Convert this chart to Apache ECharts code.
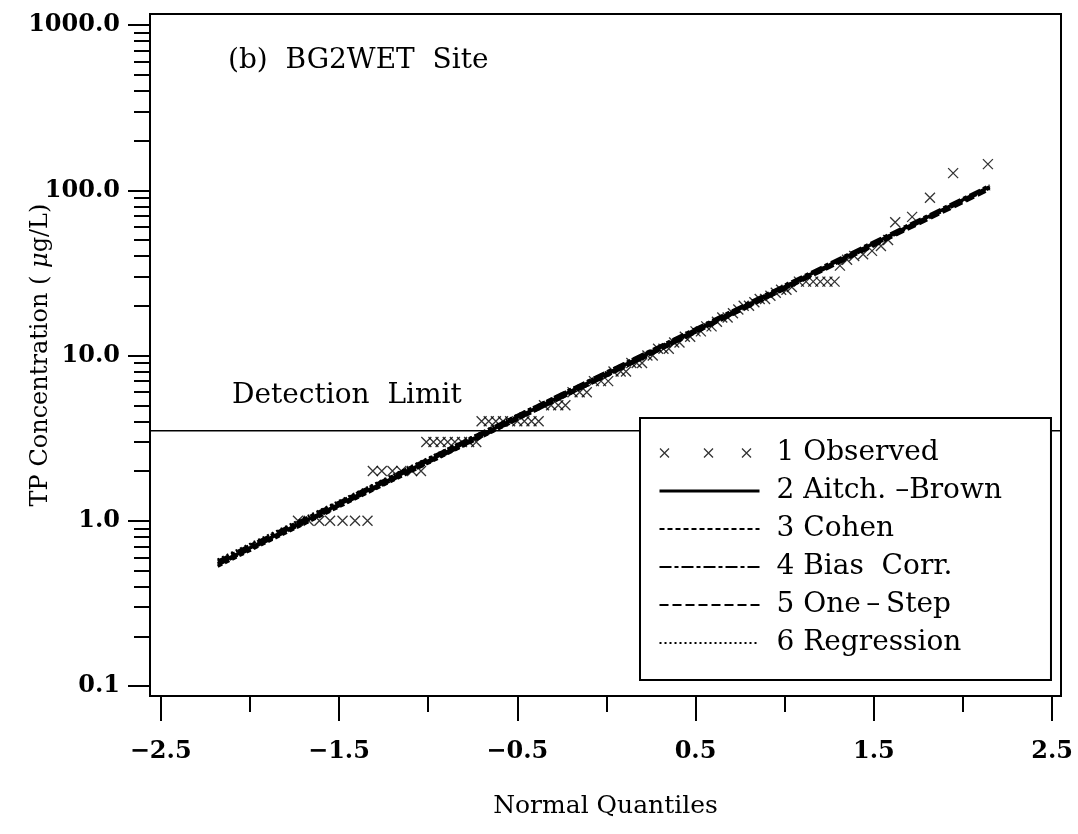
<!DOCTYPE html>
<html><head><meta charset="utf-8">
<script src="https://cdn.jsdelivr.net/npm/echarts@6/dist/echarts.min.js"></script>
<style>html,body{margin:0;padding:0;background:#fff}#c{width:1078px;height:834px}</style>
</head><body><div id="c"></div>
<script>
// Observed TP concentrations (µg/L) vs. normal quantiles
const obsZ = [
  -1.73,-1.67,-1.61,-1.55,-1.48,-1.41,-1.34,
  -1.31,-1.26,-1.20,-1.15,-1.09,-1.04,
  -1.01,-0.97,-0.93,-0.89,-0.85,-0.81,-0.77,-0.73,
  -0.70,-0.66,-0.62,-0.58,-0.54,-0.50,-0.46,-0.42,-0.38,
  -0.35,-0.31,-0.27,-0.23,
  -0.19,-0.15,-0.11,
  -0.07,-0.03,0.01,
  0.04,0.08,0.11,
  0.14,0.17,0.20,
  0.23,0.26,
  0.29,0.32,0.35,
  0.38,0.41,
  0.44,0.47,
  0.50,0.53,
  0.56,0.59,
  0.62,
  0.65,0.68,
  0.71,0.74,
  0.77,0.80,0.83,
  0.86,0.89,0.92,0.95,
  0.98,1.01,1.04,
  1.08,1.12,1.16,1.20,1.24,1.28,
  1.31,1.35,1.39,1.44,1.49,1.54,1.58,1.62,1.715,1.815,1.945,2.14
];
const obsV = [
  1,1,1,1,1,1,1,
  2,2,2,2,2,2,
  3,3,3,3,3,3,3,3,
  4,4,4,4,4,4,4,4,4,
  5,5,5,5,
  6,6,6,
  7,7,7,
  8,8,8,
  9,9,9,
  10,10,
  11,11,11,
  12,12,
  13,13,
  14,14,
  15,15,
  16,
  17,17,
  18,19,
  20,20,21,
  22,22,23,24,
  25,25,26,
  28,28,28,28,28,28,
  35,38,40,41,43,46,50,64,69,90,127,144
];
// Fitted lines: endpoints (normal quantile, concentration)
const fitZ = [-2.18, 2.15];
const aitchBrown = [0.55, 105];
const cohen = [0.53, 103];
const biasCorr = [0.57, 107];
const oneStep = [0.54, 101];
const regression = [0.58, 104];
// Detection limit
const detectionZ = [-2.56, 2.55];
const detectionV = [3.5, 3.5];
// Axis ticks
const xMajorTicks = [-2.5, -1.5, -0.5, 0.5, 1.5, 2.5];
const xMinorTicks = [-2, -1, 0, 1, 2];
const yMajorTicks = [0.1, 1, 10, 100, 1000];
const yMinorTicks = [0.2,0.3,0.4,0.5,0.6,0.7,0.8,0.9, 2,3,4,5,6,7,8,9, 20,30,40,50,60,70,80,90, 200,300,400,500,600,700,800,900];
const seriesNames = ['1 Observed', '2 Aitch. \u2013Brown', '3 Cohen', '4 Bias  Corr.', '5 One\u2009\u2013\u2009Step', '6 Regression'];

const SERIF = '"DejaVu Serif", "Liberation Serif", serif';
const pair = (xs, ys) => xs.map((x, i) => [x, ys[i]]);
const CROSS = 'path://M0,0L10,10M10,0L0,10';
const CROSS3 = 'path://M0,4.5L0.01,4.5M0.5,0L9.5,9M9.5,0L0.5,9M44.5,0L53.5,9M53.5,0L44.5,9M82.5,0L91.5,9M91.5,0L82.5,9M99.99,4.5L100,4.5';

const xBase = {
  type: 'value', min: -2.56, max: 2.55, position: 'bottom',
  splitLine: { show: false }
};
const yBase = {
  type: 'log', logBase: 10, min: 0.087, max: 1166, position: 'left',
  splitLine: { show: false }, minorTick: { show: false }
};

const lineSeries = (name, vals, width, type) => ({
  name, type: 'line', data: pair(fitZ, vals), symbol: 'none',
  lineStyle: { color: '#000', width, type },
  itemStyle: { color: '#000' }, silent: true, animation: false
});

const chart = echarts.init(document.getElementById('c'), null, { renderer: 'canvas' });
chart.setOption({
  backgroundColor: '#fff',
  animation: false,
  grid: { left: 150, right: 17, top: 14, bottom: 138, outerBoundsMode: 'none', containLabel: false,
    show: true, borderColor: '#000', borderWidth: 2, backgroundColor: 'transparent' },
  xAxis: [
    Object.assign({}, xBase, {
      name: 'Normal Quantiles', nameLocation: 'middle', nameGap: 98, nameMoveOverlap: false,
      nameTextStyle: { fontFamily: SERIF, fontSize: 25, color: '#000' },
      axisLine: { show: true, onZero: false, lineStyle: { color: '#000', width: 2 } },
      axisTick: { show: true, customValues: xMajorTicks, length: 25, lineStyle: { color: '#000', width: 2 } },
      axisLabel: {
        show: true, customValues: xMajorTicks, margin: 44,
        fontFamily: SERIF, fontWeight: 'bold', fontSize: 24, color: '#000',
        formatter: v => (v < 0 ? '\u2212' : '') + Math.abs(v).toFixed(1)
      }
    }),
    Object.assign({}, xBase, {
      axisLine: { show: false, onZero: false },
      axisTick: { show: true, customValues: xMinorTicks, length: 16, lineStyle: { color: '#000', width: 2 } },
      axisLabel: { show: false }
    })
  ],
  yAxis: [
    Object.assign({}, yBase, {
      name: 'TP Concentration ( {i|\u03bc}g/L)', nameLocation: 'middle', nameGap: 97, nameMoveOverlap: false,
      nameTextStyle: { fontFamily: SERIF, fontSize: 24, color: '#000',
        rich: { i: { fontFamily: SERIF, fontSize: 24, fontStyle: 'italic', color: '#000' } } },
      axisLine: { show: true, onZero: false, lineStyle: { color: '#000', width: 2 } },
      axisTick: { show: true, customValues: yMajorTicks, length: 22, lineStyle: { color: '#000', width: 2 } },
      axisLabel: {
        show: true, customValues: yMajorTicks, margin: 30,
        fontFamily: SERIF, fontWeight: 'bold', fontSize: 24, color: '#000',
        formatter: v => Number(v).toFixed(1)
      }
    }),
    Object.assign({}, yBase, {
      axisLine: { show: false, onZero: false },
      axisTick: { show: true, customValues: yMinorTicks, length: 16, lineStyle: { color: '#000', width: 2 } },
      axisLabel: { show: false }
    })
  ],
  legend: {
    orient: 'vertical', left: 640, top: 418,
    padding: [21, 49, 23, 18],
    itemWidth: 100, itemHeight: 14, itemGap: 10,
    backgroundColor: '#fff', borderColor: '#000', borderWidth: 2,
    selectedMode: false, symbolKeepAspect: true,
    textStyle: { fontFamily: SERIF, fontSize: 28, color: '#000', lineHeight: 28, padding: [0, 0, 0, 12] },
    itemStyle: { color: 'rgba(0,0,0,0)', borderWidth: 0 },
    data: [
      { name: seriesNames[0], icon: CROSS3, itemStyle: { color: 'rgba(0,0,0,0)', borderColor: '#000', borderWidth: 1.3 } },
      { name: seriesNames[1], lineStyle: { width: 3 } },
      { name: seriesNames[2] },
      { name: seriesNames[3] },
      { name: seriesNames[4] },
      { name: seriesNames[5] }
    ]
  },
  graphic: [
    { type: 'text', x: 228, y: 61, silent: true,
      style: { text: '(b)  BG2WET  Site', fontFamily: SERIF, fontSize: 28, fill: '#000', verticalAlign: 'middle' } },
    { type: 'text', x: 232, y: 396, silent: true,
      style: { text: 'Detection  Limit', fontFamily: SERIF, fontSize: 28, fill: '#000', verticalAlign: 'middle' } }
  ],
  series: [
    {
      name: 'Detection Limit', type: 'line', data: pair(detectionZ, detectionV), symbol: 'none',
      lineStyle: { color: '#000', width: 1.5 }, silent: true, z: 1
    },
    lineSeries(seriesNames[1], aitchBrown, 3.5, 'solid'),
    lineSeries(seriesNames[2], cohen, 3, [5, 3]),
    lineSeries(seriesNames[3], biasCorr, 3, [12, 3, 4, 3]),
    lineSeries(seriesNames[4], oneStep, 3, [9, 4]),
    lineSeries(seriesNames[5], regression, 3, [2, 3]),
    {
      name: seriesNames[0], type: 'scatter', data: pair(obsZ, obsV),
      symbol: CROSS, symbolSize: 10,
      itemStyle: { color: 'rgba(0,0,0,0)', borderColor: '#000', borderWidth: 1.3 },
      silent: true, z: 3
    }
  ]
});
</script>
</body></html>
